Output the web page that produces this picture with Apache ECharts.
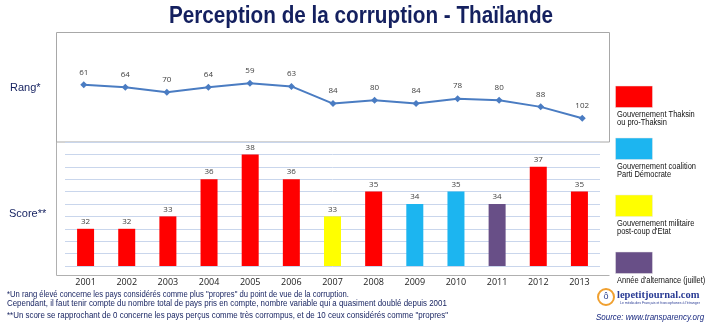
<!DOCTYPE html>
<html><head><meta charset="utf-8">
<script src="https://cdn.jsdelivr.net/npm/echarts@6/dist/echarts.min.js"></script>
<style>html,body{margin:0;padding:0;background:#fff}#c{width:710px;height:327px}</style>
</head><body><div id="c"></div>
<script>
const years = ['2001','2002','2003','2004','2005','2006','2007','2008','2009','2010','2011','2012','2013'];
const rang = [61,64,70,64,59,63,84,80,84,78,80,88,102];
const score = [32,32,33,36,38,36,33,35,34,35,34,37,35];
const govType = ['thaksin','thaksin','thaksin','thaksin','thaksin','thaksin','militaire','thaksin','democrate','democrate','alternance','thaksin','thaksin'];
const govColors = {thaksin:'#ff0000', democrate:'#1cb5f0', militaire:'#ffff00', alternance:'#684f87'};
const legendItems = [
  {key:'thaksin', label:'Gouvernement Thaksin\nou pro-Thaksin'},
  {key:'democrate', label:'Gouvernement coalition\nParti Démocrate'},
  {key:'militaire', label:'Gouvernement militaire\npost-coup d\'Etat'},
  {key:'alternance', label:'Année d\'alternance (juillet)'}
];
const title = 'Perception de la corruption - Thaïlande';
const notes = [
  '*Un rang élevé concerne les pays considérés comme plus "propres" du point de vue de la corruption.',
  'Cependant, il faut tenir compte du nombre total de pays pris en compte, nombre variable qui a quasiment doublé depuis 2001',
  '**Un score se rapprochant de 0 concerne les pays perçus comme très corrompus, et de 10 ceux considérés comme "propres"'
];

const NAVY = '#14205f';
const SANS = '"Liberation Sans",Arial,sans-serif';
const chart = echarts.init(document.getElementById('c'), null, {renderer:'canvas'});

function txt(text, x, y, opts, sx){
  return {type:'text', x:x, y:y, scaleX:sx||1, style:Object.assign({text:text, x:0, y:0, textVerticalAlign:'middle', fontFamily:SANS}, opts)};
}

const legendY = [86, 138, 195, 252];
const graphics = [
  {type:'rect', shape:{x:56.5,y:32.5,width:553,height:109.5}, style:{fill:'none',stroke:'#a8a8a8',lineWidth:1}, z:0},
  {type:'polyline', shape:{points:[[56.5,142],[56.5,275.5],[609.5,275.5]]}, style:{fill:'none',stroke:'#b0b0b0',lineWidth:1}, z:0},
  txt(title, 361, 17, {textAlign:'center', fontSize:23, fontWeight:'bold', fill:NAVY}, 0.9),
  txt('Rang*', 10, 88, {fontSize:11, fill:NAVY}),
  txt('Score**', 9, 214, {fontSize:11, fill:NAVY}),
  txt(notes[0], 7, 295, {fontSize:9, fill:NAVY}, 0.85),
  txt(notes[1], 7, 303.5, {fontSize:9, fill:NAVY}, 0.88),
  txt(notes[2], 7, 316, {fontSize:9, fill:NAVY}, 0.88),
  // logo
  {type:'circle', shape:{cx:606, cy:297, r:8}, style:{fill:'#fff', stroke:'#f0a030', lineWidth:2}},
  txt('ô', 606, 297, {textAlign:'center', fontSize:9, fill:'#2a3f8f'}),
  txt('lepetitjournal.com', 617, 295, {fontSize:10.5, fontWeight:'bold', fontFamily:'"Liberation Serif","DejaVu Serif",serif', fill:'#2a3c95'}),
  txt('Le média des Français et francophones à l\'étranger', 620, 303, {fontSize:3.5, fill:'#2a3c95'}),
  txt('Source: www.transparency.org', 596, 317, {fontSize:9.5, fontStyle:'italic', fill:'#1a2a80'}, 0.84)
];
legendItems.forEach((it,i)=>{
  graphics.push({type:'rect', shape:{x:615.5,y:legendY[i],width:37,height:21.5}, style:{fill:govColors[it.key], stroke:'#e6e6e6', lineWidth:0.5}});
  graphics.push({type:'text', x:617, y:legendY[i]+25, scaleX:0.88, style:{text:it.label, x:0, y:0, textVerticalAlign:'top', fontSize:8.5, lineHeight:8, fontFamily:SANS, fill:'#111'}});
});

const option = {
  animation:false,
  backgroundColor:'#fff',
  grid:[
    {left:63, right:107, top:35, bottom:194},
    {left:65, right:110, top:142, bottom:61}
  ],
  xAxis:[
    {gridIndex:0, type:'category', data:years, boundaryGap:true, axisLine:{show:false}, axisTick:{show:false}, axisLabel:{show:false}, splitLine:{show:false}},
    {gridIndex:1, type:'category', data:years, axisLine:{show:false}, axisTick:{show:false},
     axisLabel:{margin:12, fontSize:9, color:'#222', fontFamily:'"Open Sans",sans-serif'}}
  ],
  yAxis:[
    {gridIndex:0, type:'value', inverse:true, min:0, max:120, show:false, splitLine:{show:false}},
    {gridIndex:1, type:'value', min:29, max:39, interval:1, axisLine:{show:false}, axisTick:{show:false}, axisLabel:{show:false},
     splitLine:{show:true, lineStyle:{color:'#c9d6ec', width:1}}}
  ],
  series:[
    {type:'line', xAxisIndex:0, yAxisIndex:0, data:rang, symbol:'diamond', symbolSize:7,
     lineStyle:{color:'#4a7cc2', width:2}, itemStyle:{color:'#4a7cc2'},
     label:{show:true, position:'top', distance:5, fontSize:8, color:'#404040', fontFamily:'"Open Sans",sans-serif'}},
    {type:'bar', xAxisIndex:1, yAxisIndex:1, barWidth:17,
     data:score.map((v,i)=>({value:v, itemStyle:{color:govColors[govType[i]]}})),
     label:{show:true, position:'top', distance:3, fontSize:8, color:'#404040', fontFamily:'"Open Sans",sans-serif'}}
  ],
  graphic:graphics
};
chart.setOption(option);
</script></body></html>
